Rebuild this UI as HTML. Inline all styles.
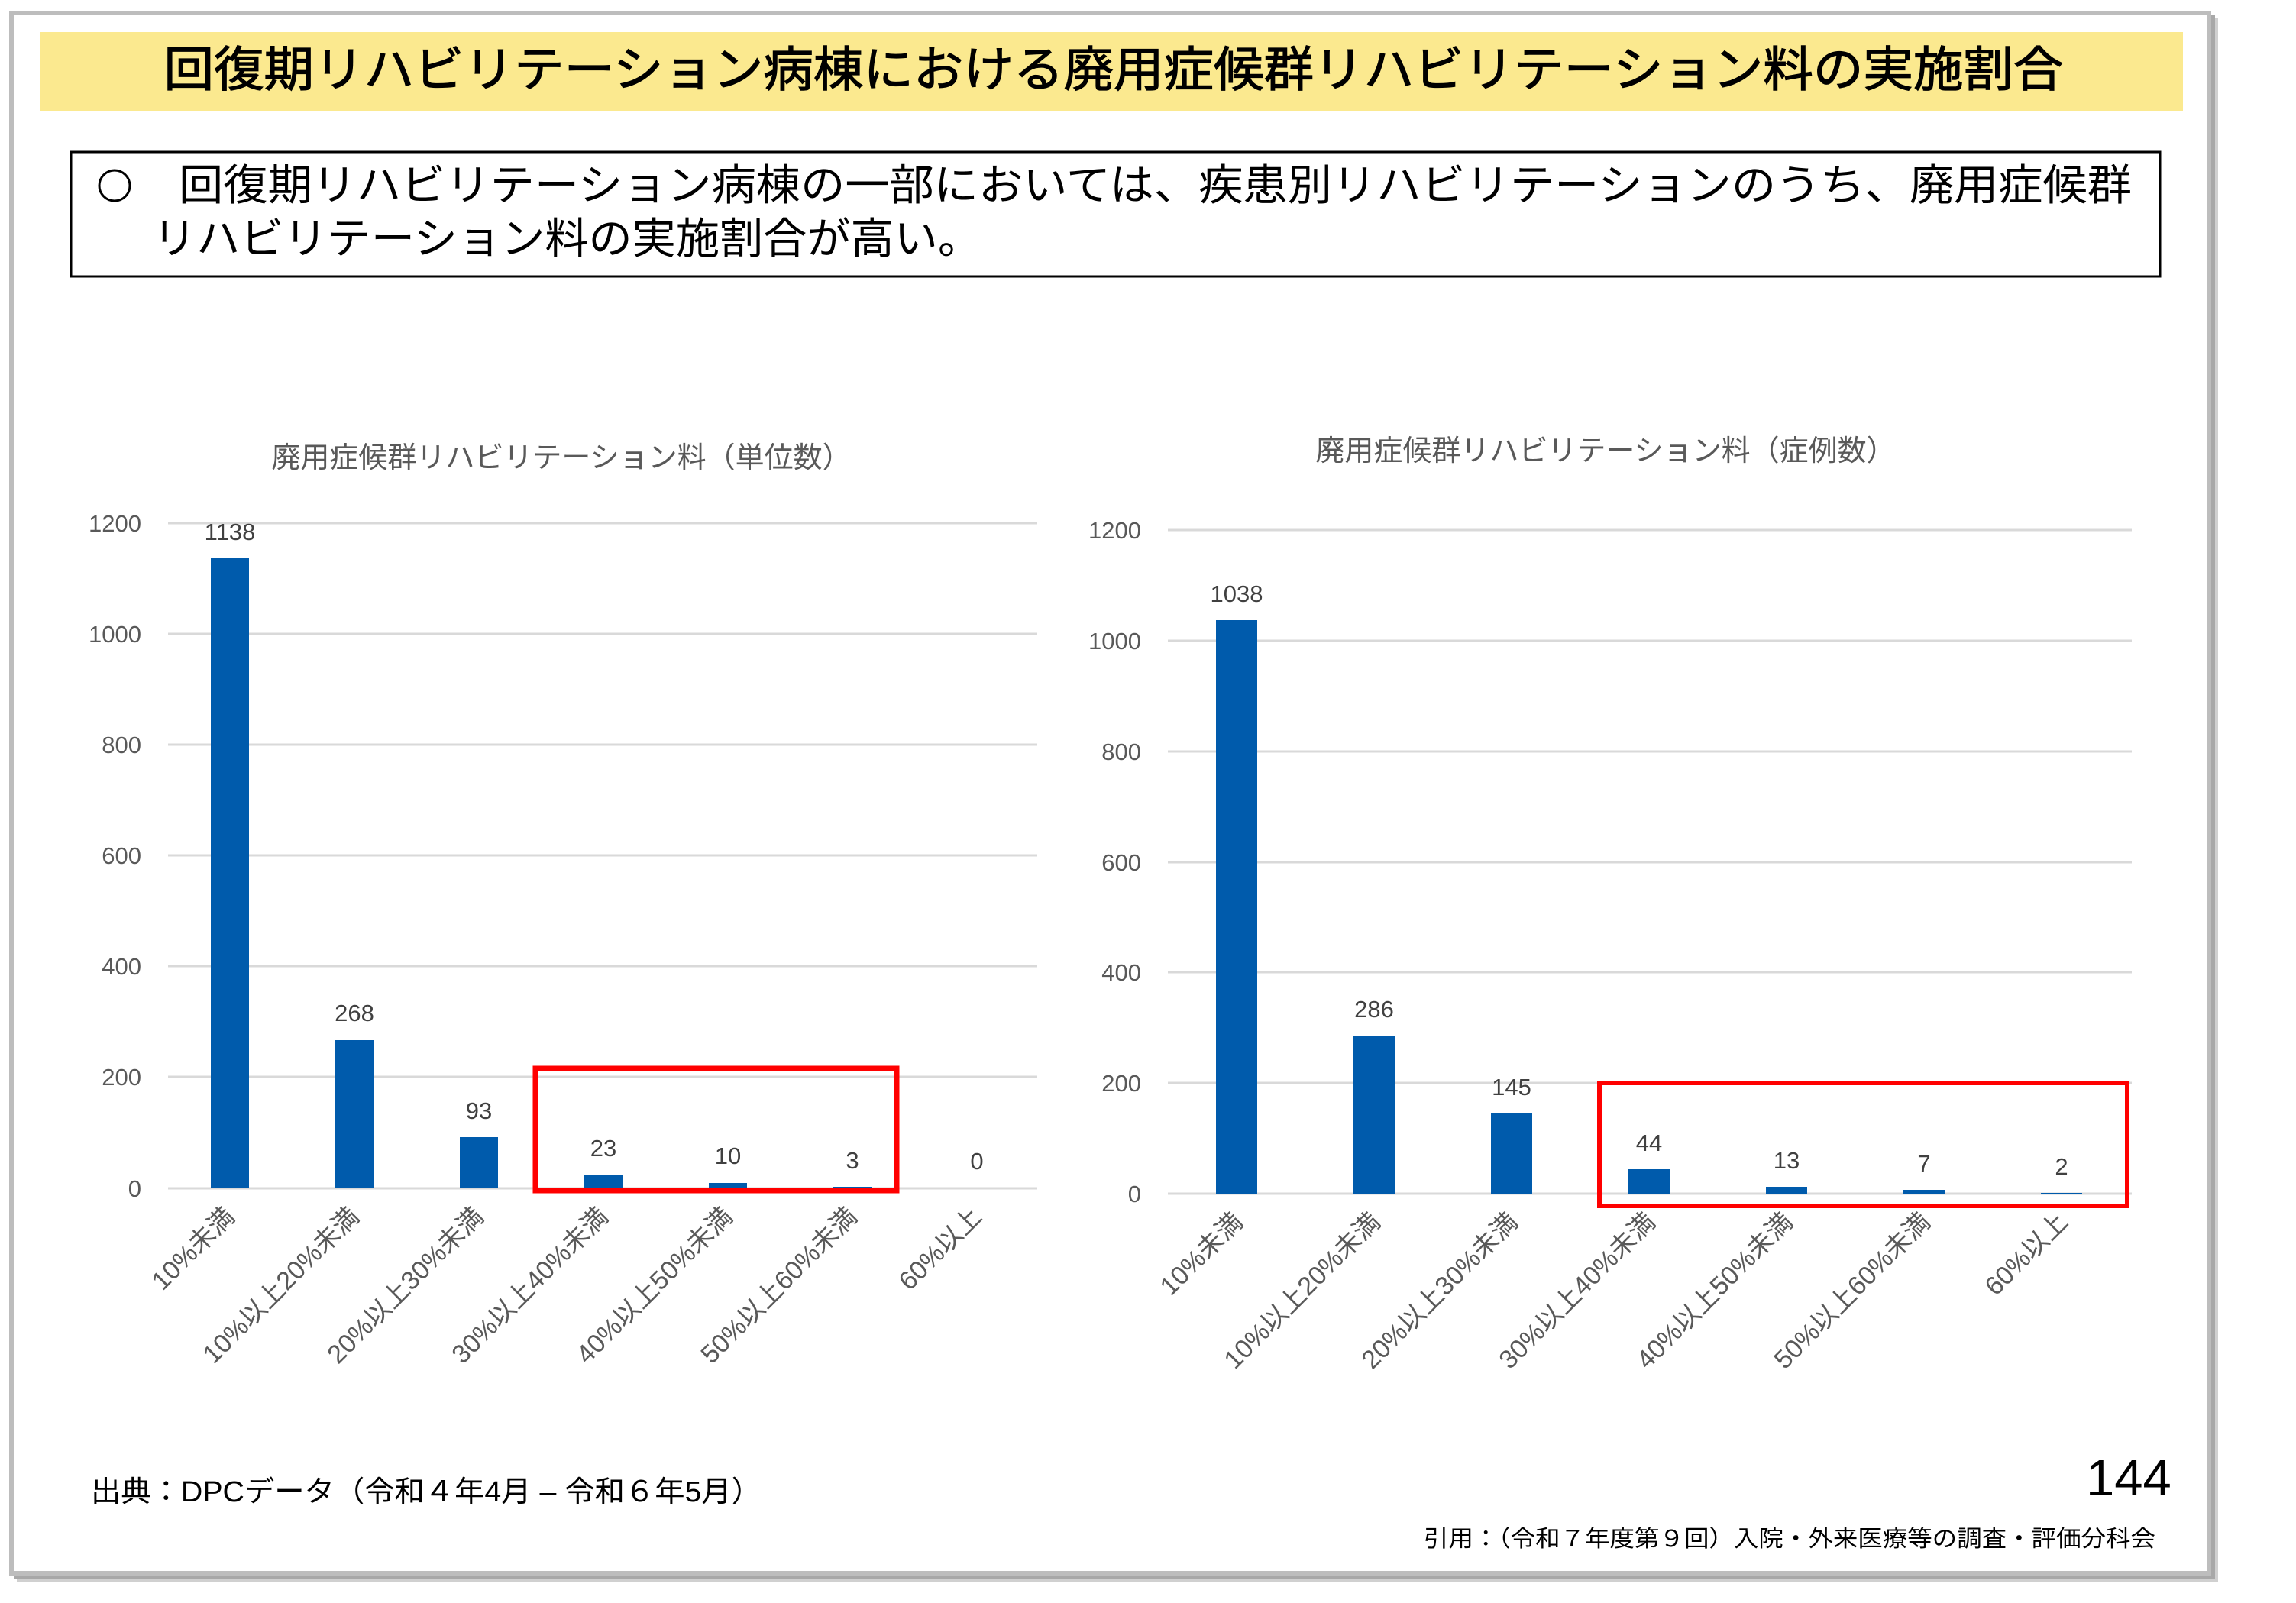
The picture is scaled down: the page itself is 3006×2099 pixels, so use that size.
<!DOCTYPE html>
<html><head><meta charset="utf-8"><style>
html,body{margin:0;padding:0;background:#fff;}
svg{display:block;}
</style></head><body>
<svg width="3006" height="2099" viewBox="0 0 3006 2099" xmlns="http://www.w3.org/2000/svg" font-family="'Liberation Sans','Noto Sans CJK JP',sans-serif">
<rect x="0" y="0" width="3006" height="2099" fill="#fff"/>
<rect x="22" y="24" width="2882" height="2048" fill="#d0d0d0"/>
<rect x="18" y="20" width="2882" height="2048" fill="#a8a8a8"/>
<rect x="12" y="14" width="2883" height="2049" fill="#bdbdbd"/>
<rect x="18" y="20" width="2871" height="2037" fill="#fff"/>
<rect x="52" y="42" width="2806" height="104" fill="#fbe98f"/>
<text x="1458" y="113" text-anchor="middle" font-size="63" fill="#000" stroke="#000" stroke-width="1.2" textLength="2487" lengthAdjust="spacingAndGlyphs">回復期リハビリテーション病棟における廃用症候群リハビリテーション料の実施割合</text>
<rect x="93" y="199" width="2735" height="163" fill="none" stroke="#000" stroke-width="3"/>
<circle cx="150" cy="243" r="20" fill="none" stroke="#000" stroke-width="3"/>
<text x="234" y="262" font-size="56" fill="#000" textLength="2557" lengthAdjust="spacingAndGlyphs">回復期リハビリテーション病棟の一部においては、疾患別リハビリテーションのうち、廃用症候群</text>
<text x="200" y="332" font-size="56" fill="#000" textLength="1085" lengthAdjust="spacingAndGlyphs">リハビリテーション料の実施割合が高い。</text>

<text x="735" y="612" text-anchor="middle" font-size="38" fill="#595959">廃用症候群リハビリテーション料（単位数）</text>
<g stroke="#d9d9d9" stroke-width="3">
<line x1="220" y1="685" x2="1358" y2="685"/><line x1="220" y1="830" x2="1358" y2="830"/>
<line x1="220" y1="975" x2="1358" y2="975"/><line x1="220" y1="1120" x2="1358" y2="1120"/>
<line x1="220" y1="1265" x2="1358" y2="1265"/><line x1="220" y1="1410" x2="1358" y2="1410"/>
<line x1="220" y1="1556" x2="1358" y2="1556"/>
</g>
<g font-size="31" fill="#595959" text-anchor="end">
<text x="185" y="696">1200</text><text x="185" y="841">1000</text><text x="185" y="986">800</text>
<text x="185" y="1131">600</text><text x="185" y="1276">400</text><text x="185" y="1421">200</text><text x="185" y="1567">0</text>
</g>
<g fill="#005bac">
<rect x="276" y="731" width="50" height="825"/>
<rect x="439" y="1362" width="50" height="194"/>
<rect x="602" y="1489" width="50" height="67"/>
<rect x="765" y="1539" width="50" height="17"/>
<rect x="928" y="1549" width="50" height="7"/>
<rect x="1091" y="1554" width="50" height="2"/>
</g>
<g font-size="31" fill="#404040" text-anchor="middle">
<text x="301" y="707">1138</text><text x="464" y="1337">268</text><text x="627" y="1465">93</text>
<text x="790" y="1514">23</text><text x="953" y="1524">10</text><text x="1116" y="1530">3</text><text x="1279" y="1531">0</text>
</g>
<g font-size="34" fill="#595959" text-anchor="end">
<text transform="translate(309,1595) rotate(-45)">10%未満</text>
<text transform="translate(472,1595) rotate(-45)">10%以上20%未満</text>
<text transform="translate(635,1595) rotate(-45)">20%以上30%未満</text>
<text transform="translate(798,1595) rotate(-45)">30%以上40%未満</text>
<text transform="translate(961,1595) rotate(-45)">40%以上50%未満</text>
<text transform="translate(1124,1595) rotate(-45)">50%以上60%未満</text>
<text transform="translate(1287,1595) rotate(-45)">60%以上</text>
</g>
<rect x="701" y="1399" width="473" height="160" fill="none" stroke="#ff0000" stroke-width="7"/>

<text x="2102" y="603" text-anchor="middle" font-size="38" fill="#595959">廃用症候群リハビリテーション料（症例数）</text>
<g stroke="#d9d9d9" stroke-width="3">
<line x1="1529" y1="694" x2="2791" y2="694"/><line x1="1529" y1="839" x2="2791" y2="839"/>
<line x1="1529" y1="984" x2="2791" y2="984"/><line x1="1529" y1="1129" x2="2791" y2="1129"/>
<line x1="1529" y1="1273" x2="2791" y2="1273"/><line x1="1529" y1="1418" x2="2791" y2="1418"/>
<line x1="1529" y1="1563" x2="2791" y2="1563"/>
</g>
<g font-size="31" fill="#595959" text-anchor="end">
<text x="1494" y="705">1200</text><text x="1494" y="850">1000</text><text x="1494" y="995">800</text>
<text x="1494" y="1140">600</text><text x="1494" y="1284">400</text><text x="1494" y="1429">200</text><text x="1494" y="1574">0</text>
</g>
<g fill="#005bac">
<rect x="1592" y="812" width="54" height="751"/>
<rect x="1772" y="1356" width="54" height="207"/>
<rect x="1952" y="1458" width="54" height="105"/>
<rect x="2132" y="1531" width="54" height="32"/>
<rect x="2312" y="1554" width="54" height="9"/>
<rect x="2492" y="1558" width="54" height="5"/>
<rect x="2672" y="1562" width="54" height="1"/>
</g>
<g font-size="31" fill="#404040" text-anchor="middle">
<text x="1619" y="788">1038</text><text x="1799" y="1332">286</text><text x="1979" y="1434">145</text>
<text x="2159" y="1507">44</text><text x="2339" y="1530">13</text><text x="2519" y="1534">7</text><text x="2699" y="1538">2</text>
</g>
<g font-size="34" fill="#595959" text-anchor="end">
<text transform="translate(1629,1602) rotate(-45)">10%未満</text>
<text transform="translate(1809,1602) rotate(-45)">10%以上20%未満</text>
<text transform="translate(1989,1602) rotate(-45)">20%以上30%未満</text>
<text transform="translate(2169,1602) rotate(-45)">30%以上40%未満</text>
<text transform="translate(2349,1602) rotate(-45)">40%以上50%未満</text>
<text transform="translate(2529,1602) rotate(-45)">50%以上60%未満</text>
<text transform="translate(2709,1602) rotate(-45)">60%以上</text>
</g>
<rect x="2094" y="1418" width="691" height="161" fill="none" stroke="#ff0000" stroke-width="6"/>

<text x="119" y="1966" font-size="38" fill="#000" textLength="878" lengthAdjust="spacingAndGlyphs">出典：DPCデータ（令和４年4月 – 令和６年5月）</text>
<text x="2731" y="1958" font-size="67" fill="#000">144</text>
<text x="1864" y="2025" font-size="30" fill="#000" textLength="958" lengthAdjust="spacingAndGlyphs">引用：（令和７年度第９回）入院・外来医療等の調査・評価分科会</text>
</svg>
</body></html>
